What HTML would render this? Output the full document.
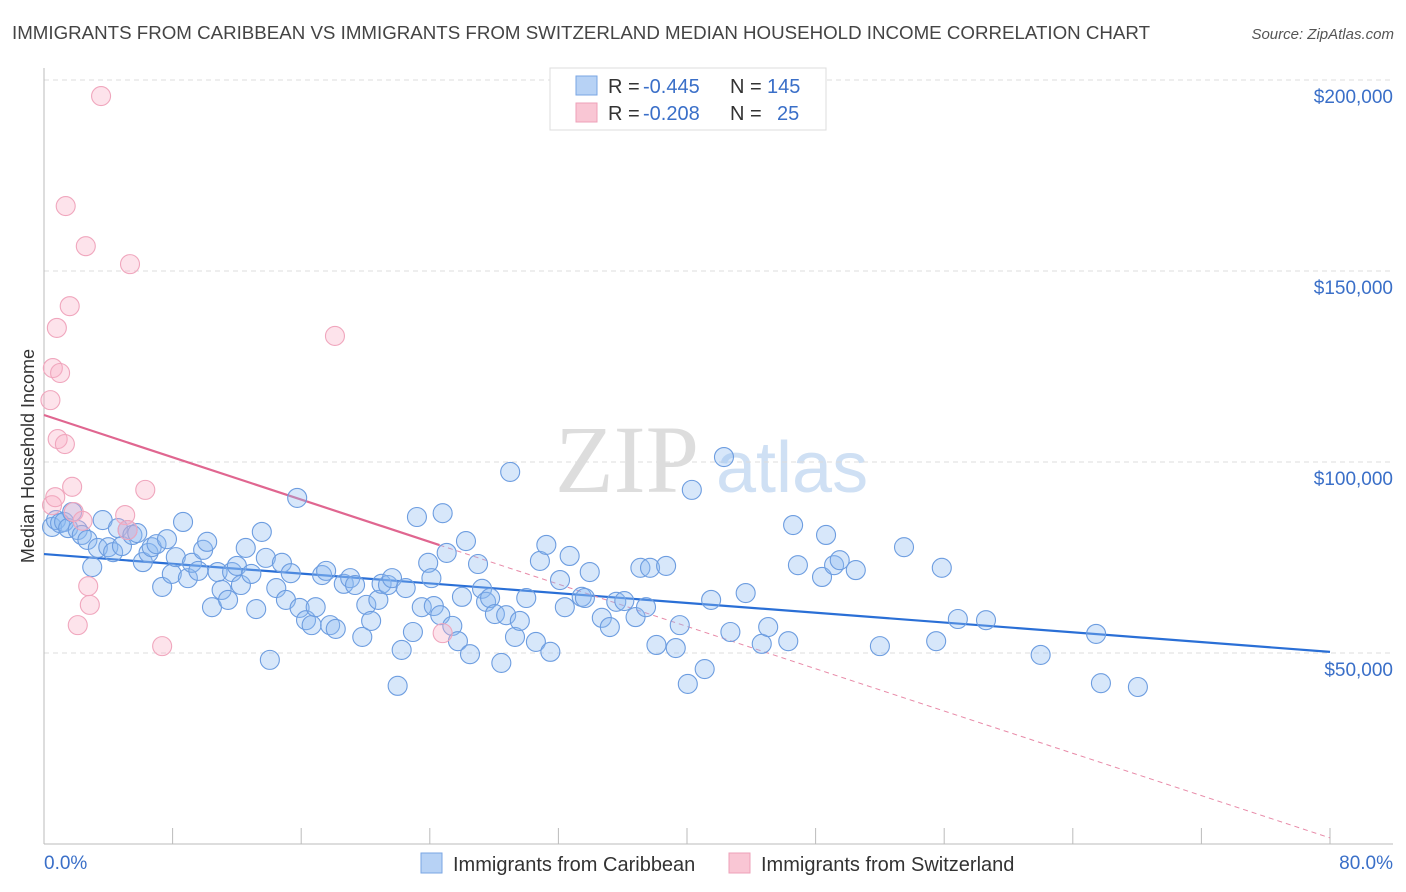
<!DOCTYPE html>
<html><head><meta charset="utf-8"><style>
body{margin:0;background:#fff;font-family:"Liberation Sans",sans-serif}
</style></head><body>
<svg id="c" width="1406" height="892" xmlns="http://www.w3.org/2000/svg" style="display:block;font-family:'Liberation Sans',sans-serif">
<text x="12" y="39" font-size="18" fill="#444" textLength="1138" lengthAdjust="spacingAndGlyphs">IMMIGRANTS FROM CARIBBEAN VS IMMIGRANTS FROM SWITZERLAND MEDIAN HOUSEHOLD INCOME CORRELATION CHART</text>
<text x="1394" y="39" font-size="15" fill="#555" font-style="italic" text-anchor="end">Source: ZipAtlas.com</text>
<text transform="translate(34,456) rotate(-90)" font-size="18" fill="#333" text-anchor="middle">Median Household Income</text>
<g>
<text x="555" y="492" font-size="96" fill="#ddd" font-family="Liberation Serif,serif">ZIP</text>
<text x="716" y="492" font-size="72" fill="#cfe0f4">atlas</text>
</g>
<g id="grid"></g><g id="axes"></g><g id="lines"></g><g id="pts"></g>
<g>
<rect x="550" y="68" width="276" height="62" fill="#fff" stroke="#ddd"/>
<rect x="576" y="76" width="21" height="19" fill="#b7d2f5" stroke="#7aa6e3"/>
<rect x="576" y="103" width="21" height="19" fill="#f9c6d4" stroke="#eea0b8"/>
<text y="93" font-size="20" fill="#333"><tspan x="608">R =</tspan><tspan x="643" fill="#3a6fc8">-0.445</tspan><tspan x="730">N =</tspan><tspan x="767" fill="#3a6fc8">145</tspan></text>
<text y="120" font-size="20" fill="#333"><tspan x="608">R =</tspan><tspan x="643" fill="#3a6fc8">-0.208</tspan><tspan x="730">N =</tspan><tspan x="777" fill="#3a6fc8">25</tspan></text>
</g>
<g>
<rect x="421" y="853" width="21" height="20" fill="#b7d2f5" stroke="#7aa6e3"/>
<text x="453" y="871" font-size="20" fill="#333">Immigrants from Caribbean</text>
<rect x="729" y="853" width="21" height="20" fill="#f9c6d4" stroke="#eea0b8"/>
<text x="761" y="871" font-size="20" fill="#333">Immigrants from Switzerland</text>
</g>
</svg>
<script>
const blueX=[0.5,0.75,1.0,1.25,1.5,1.75,2.1,2.35,2.7,3.0,3.35,3.65,4.0,4.3,4.6,4.85,5.2,5.5,5.8,6.15,6.5,6.7,7.0,7.35,7.65,7.95,8.2,8.65,8.95,9.2,9.6,9.9,10.15,10.45,10.8,11.05,11.45,11.7,12.0,12.25,12.55,12.9,13.2,13.55,13.8,14.05,14.45,14.8,15.05,15.35,15.75,15.9,16.3,16.65,16.9,17.3,17.55,17.8,18.15,18.65,19.05,19.35,19.8,20.05,20.35,20.8,21.0,21.4,21.65,22.0,22.25,22.5,22.95,23.2,23.5,23.9,24.1,24.25,24.65,24.8,25.05,25.4,25.75,26.0,26.25,26.5,27.0,27.25,27.5,27.75,28.05,28.45,28.75,29.0,29.3,29.6,30.0,30.6,30.85,31.25,31.5,32.1,32.4,32.7,33.45,33.65,33.95,34.7,35.2,35.6,36.1,36.8,37.1,37.45,37.7,38.1,38.7,39.3,39.55,40.05,40.3,41.1,41.5,42.3,42.7,43.65,44.65,45.05,46.3,46.6,46.9,48.4,48.65,49.15,49.5,50.5,52.0,53.5,55.5,55.85,56.85,58.6,62.0,65.45,65.75,68.05];
const blueY=[83.0,84.8,84.0,84.3,82.7,86.9,82.2,80.9,79.6,72.5,77.5,84.8,77.7,76.4,82.7,78.0,82.2,80.9,81.4,73.8,76.2,77.7,78.5,67.3,79.8,70.7,75.1,84.3,69.6,73.6,71.5,77.0,79.1,62.0,71.2,66.5,63.9,71.2,72.8,67.8,77.5,70.7,61.5,81.7,74.9,48.2,67.0,73.6,63.9,70.9,90.6,61.8,58.6,57.3,62.0,70.4,71.5,57.3,56.3,68.1,69.6,67.8,54.2,62.6,58.4,63.9,68.1,67.8,69.6,41.4,50.8,67.0,55.5,85.6,62.0,73.6,69.6,62.3,59.9,86.6,76.2,57.1,53.1,64.7,79.3,49.7,73.3,66.8,63.4,64.4,60.2,47.4,59.9,97.4,54.2,58.4,64.4,52.9,74.1,78.3,50.3,69.1,62.0,75.4,64.7,64.4,71.2,59.2,56.8,63.4,63.6,59.4,72.3,62.0,72.3,52.1,72.8,51.3,57.3,41.9,92.7,45.8,63.9,101.3,55.5,65.7,52.4,56.8,53.1,83.5,73.0,69.9,80.9,73.0,74.3,71.7,51.8,77.7,53.1,72.3,58.9,58.6,49.5,55.0,42.1,41.1];
const pinkX=[0.5,0.7,0.85,0.4,0.55,0.8,1.0,1.35,1.3,1.6,1.75,1.85,2.4,2.6,2.75,2.85,2.1,3.55,5.05,5.2,5.35,6.3,7.35,18.1,24.8];
const pinkY=[88.7,90.8,106.0,116.2,124.6,135.1,123.3,167.0,104.7,140.8,93.5,86.9,84.6,156.5,67.5,62.6,57.3,195.8,86.1,82.2,151.8,92.7,51.8,133.0,55.2];
const blueTrend=[75.9,50.3];
const pinkTrend=[112.3,1.6];
const pinkSolidEnd=24.6;
const yTicks=[50,100,150,200];
const xTicks=[0,8,16,24,32,40,48,56,64,72,80];
const NS="http://www.w3.org/2000/svg";
const X=v=>44+v/80*1286, Y=k=>844-k/50*191;
function mk(t,a,p){const e=document.createElementNS(NS,t);for(const k in a)e.setAttribute(k,a[k]);p.appendChild(e);return e;}
const grid=document.getElementById('grid'),axes=document.getElementById('axes'),lines=document.getElementById('lines'),pts=document.getElementById('pts');
yTicks.forEach(t=>{
 const l=mk('line',{x1:44,x2:1393,y1:Y(t),y2:Y(t),stroke:'#ddd','stroke-dasharray':'5,4'},grid);
 
 
 const tx=mk('text',{x:1393,y:Y(t)+23,'font-size':19,fill:'#3a6fc8','text-anchor':'end'},axes);
 tx.textContent='$'+(t*1000).toLocaleString('en-US');
 
 
});
const ya=mk('line',{x1:44,x2:44,y1:68,y2:844,stroke:'#bbb'},axes);


const xa=mk('line',{x1:44,x2:1393,y1:844,y2:844,stroke:'#bbb'},axes);


xTicks.forEach(t=>{
 const l=mk('line',{x1:X(t),x2:X(t),y1:828,y2:844,stroke:'#bbb'},axes);
 
 
});
[[0,'start',44,'0.0%'],[80,'end',1393,'80.0%']].forEach(d=>{
 const tx=mk('text',{x:d[2],y:869,'font-size':19,fill:'#3a6fc8','text-anchor':d[1]},axes);
 tx.textContent=d[3];
 
 
});
blueX.forEach((x,i)=>{
 const c=mk('circle',{cx:X(x),cy:Y(blueY[i]),r:9.5,fill:'rgba(140,185,240,0.35)',stroke:'#6d9de0','stroke-width':1.1},pts);
 
 
});
pinkX.forEach((x,i)=>{
 const c=mk('circle',{cx:X(x),cy:Y(pinkY[i]),r:9.5,fill:'rgba(248,175,198,0.35)',stroke:'#f0a6bd','stroke-width':1.1},pts);
 
 
});
const bt=mk('line',{x1:X(0),y1:Y(blueTrend[0]),x2:X(80),y2:Y(blueTrend[1]),stroke:'#2a6fd6','stroke-width':2.2},lines);


const py=x=>pinkTrend[0]+(pinkTrend[1]-pinkTrend[0])*x/80;
const ps=mk('line',{x1:X(0),y1:Y(py(0)),x2:X(pinkSolidEnd),y2:Y(py(pinkSolidEnd)),stroke:'#e06690','stroke-width':2.2},lines);


const pd=mk('line',{x1:X(pinkSolidEnd),y1:Y(py(pinkSolidEnd)),x2:X(80),y2:Y(py(80)),stroke:'#e88aa8','stroke-width':1,'stroke-dasharray':'5,4'},lines);


</script>
</body></html>
